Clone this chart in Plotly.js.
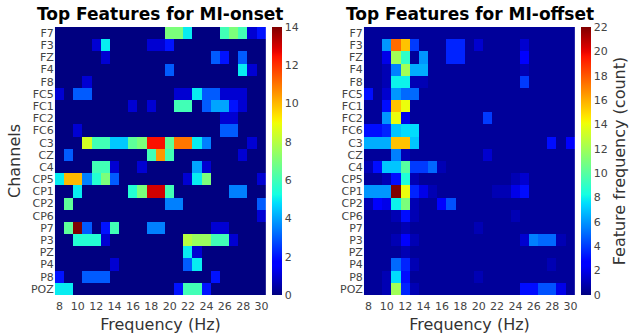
<!DOCTYPE html>
<html>
<head>
<meta charset="utf-8">
<script src="https://cdn.plot.ly/plotly-3.0.1.min.js"></script>
<style>html,body{margin:0;padding:0;background:#fff;}#chart{width:629px;height:335px;}</style>
</head>
<body>
<div id="chart"></div>
<script>
const channels = ['F7','F3','FZ','F4','F8','FC5','FC1','FC2','FC6','C3','CZ','C4','CP5','CP1','CP2','CP6','P7','P3','PZ','P4','P8','POZ'];
const freqs = [8,9,10,11,12,13,14,15,16,17,18,19,20,21,22,23,24,25,26,27,28,29,30];
const freqTicks = [8,10,12,14,16,18,20,22,24,26,28,30];
const onsetTitle = 'Top Features for MI-onset';
const offsetTitle = 'Top Features for MI-offset';
const xLabel = 'Frequency (Hz)';
const yLabel = 'Channels';
const cbLabel = 'Feature frequency (count)';

// MI-onset counts, rows = channels, columns = 8..30 Hz
const onsetCounts = [
  [0,0,0,0,0,0,0,0,0,0,0,0,7,7,5,0,0,0,6,7,6,1,2],      // F7
  [0,0,0,0,1,5,0,0,0,0,1,1,2,0,0,0,0,0,0,0,0,0,0],      // F3
  [0,0,0,0,0,1,0,0,0,0,0,0,0,0,0,0,0,3,2,0,3,0,0],      // FZ
  [0,0,0,0,0,0,0,0,0,0,0,0,3,0,0,0,0,0,0,0,5,1,0],      // F4
  [0,0,0,1,0,0,0,0,0,0,0,0,0,0,0,0,0,0,0,0,0,0,0],      // F8
  [1,0,3,3,0,0,0,0,0,0,0,0,0,1,1,5,3,3,1,1,1,0,0],      // FC5
  [0,0,0,0,0,0,0,0,1,0,1,0,0,6,6,0,3,4,4,2,1,0,0],      // FC1
  [0,0,0,0,0,0,0,0,0,0,0,0,0,0,0,0,0,0,1,1,0,0,0],      // FC2
  [0,0,1,0,0,0,0,0,0,0,0,0,0,0,0,0,0,0,3,3,0,0,0],      // FC6
  [0,0,0,8.5,6,6,4.5,4.5,6.5,7,12.5,12.5,6.5,11,11,5,3.5,0,0,0,0,1,0], // C3
  [0,3,0,0,0,0,0,0,0,0,6,10.5,6,0,0,0,0,0,0,0,1,0,0],   // CZ
  [0,0,0,0,6,6,1,0,0,1,0,0,0,0,0,4,1,0,0,0,0,0,0],      // C4
  [5,10,10,3.5,5.5,7,3,0,0,0,0,0,0,0,1,5,7,0,0,0,0,0,1], // CP5
  [0,0,5,0,0,0,0,0,5.5,7,13,13,6,0,0,0,0,0,0,3.5,3.5,0,0], // CP1
  [0,6.5,0,0,0,0,0,0,0,0,0,0,3.5,3.5,0,0,0,0,0,0,0,0,3], // CP2
  [0,0,0,0,0,0,0,0,0,0,0,0,0,0,0,0,0,0,0,0,0,0,1],      // CP6
  [0,6.5,14,3,0,2,6,0,0,0,3.5,3.5,0,0,0,0,0,1,1,0,0,0,0], // P7
  [0,0,5.5,5.5,5.5,1,0,0,0,0,0,0,0,0,8,7.5,7.5,6,6,1,0,0,0], // P3
  [0,0,0,0,0,0,0,0,0,0,0,0,0,0,5,1,0,0,0,0,0,0,0],      // PZ
  [0,0,0,0,0,0,1,0,0,0,0,0,0,0,3,5,0,0,0,0,0,0,0],      // P4
  [2,0,0,3,3,3,0,0,0,0,0,0,0,0,0,0,0,2,0,0,0,0,0],      // P8
  [5,5,0,0,0,0,0,0,0,0,0,0,0,2,6,6,2,0,0,0,0,0,0]       // POZ
];

// MI-offset counts, rows = channels, columns = 8..30 Hz
const offsetCounts = [
  [0.5,0.5,0.5,0.5,0.5,0.5,0.5,0.5,0.5,0.5,0.5,0.5,0.5,0.5,0.5,0.5,0.5,0.5,0.5,0.5,0.5,0.5,0.5], // F7
  [0.5,0.5,6,17.5,15.5,4,0.5,0.5,0.5,3.5,3.5,0.5,1.5,0.5,0.5,0.5,0.5,1.5,0.5,0.5,0.5,0.5,0.5], // F3
  [0.5,0.5,2,12,9,0.5,6,0.5,0.5,3.5,3.5,0.5,0.5,0.5,0.5,0.5,0.5,2.5,0.5,0.5,0.5,0.5,0.5], // FZ
  [0.5,0.5,1,5.5,12,6.5,6.5,0.5,0.5,0.5,0.5,0.5,0.5,0.5,0.5,0.5,0.5,1,0.5,0.5,0.5,0.5,0.5], // F4
  [0.5,0.5,1,8,8,1,1,0.5,0.5,0.5,0.5,0.5,0.5,0.5,0.5,0.5,0.5,4,0.5,0.5,0.5,0.5,0.5], // F8
  [3,0.5,1.5,6,5,5,0.5,0.5,0.5,0.5,0.5,0.5,0.5,0.5,0.5,0.5,0.5,0.5,0.5,0.5,0.5,0.5,0.5], // FC5
  [0.5,0.5,3,15.5,14,0.5,0.5,0.5,0.5,0.5,0.5,0.5,0.5,0.5,0.5,0.5,0.5,0.5,0.5,0.5,0.5,0.5,0.5], // FC1
  [0.5,0.5,6,14,2,0.5,0.5,0.5,0.5,0.5,0.5,0.5,0.5,4,0.5,0.5,0.5,0.5,0.5,0.5,0.5,0.5,0.5], // FC2
  [3,3,3.5,7,7.5,7.5,0.5,0.5,0.5,0.5,0.5,0.5,0.5,0.5,0.5,0.5,0.5,0.5,0.5,0.5,0.5,0.5,0.5], // FC6
  [6.5,6.5,6.5,15.5,15.5,7,0.5,0.5,0.5,0.5,0.5,0.5,0.5,0.5,0.5,0.5,0.5,0.5,0.5,0.5,3,0.5,2.5], // C3
  [0.5,0.5,0.5,5.5,1,0.5,0.5,0.5,0.5,0.5,0.5,0.5,0.5,1.5,0.5,0.5,0.5,0.5,0.5,0.5,0.5,0.5,0.5], // CZ
  [1,3,7,7,10,4,4,5,1,0.5,0.5,0.5,0.5,0.5,0.5,0.5,0.5,0.5,0.5,0.5,0.5,0.5,0.5], // C4
  [0.5,0.5,1,3,8.5,1,0.5,0.5,0.5,0.5,0.5,0.5,0.5,0.5,0.5,0.5,1,1.5,0.5,0.5,0.5,0.5,0.5], // CP5
  [6,6,6,22,14,3.5,2,1,0.5,0.5,0.5,0.5,0.5,0.5,1,1,2,3,0.5,0.5,0.5,0.5,0.5], // CP1
  [1,2.5,2,8,11,1,0.5,0.5,2.5,4.5,0.5,0.5,0.5,0.5,0.5,0.5,0.5,0.5,0.5,0.5,0.5,0.5,0.5], // CP2
  [0.5,0.5,0.5,1,3,1,0.5,0.5,0.5,0.5,0.5,0.5,0.5,0.5,0.5,0.5,1,0.5,0.5,0.5,0.5,0.5,0.5], // CP6
  [0.5,0.5,0.5,0.5,1,0.5,0.5,0.5,0.5,0.5,0.5,0.5,1,0.5,0.5,0.5,0.5,0.5,0.5,0.5,0.5,0.5,0.5], // P7
  [0.5,0.5,0.5,1,2.5,1,0.5,0.5,0.5,0.5,0.5,0.5,0.5,0.5,0.5,0.5,0.5,1.5,5.5,5,5,1,0.5], // P3
  [0.5,0.5,0.5,0.5,1,0.5,0.5,0.5,0.5,0.5,0.5,0.5,0.5,0.5,0.5,0.5,0.5,0.5,0.5,0.5,0.5,0.5,0.5], // PZ
  [0.5,0.5,0.5,5,3.5,1,0.5,0.5,0.5,0.5,0.5,0.5,0.5,0.5,0.5,0.5,0.5,0.5,0.5,0.5,1,0.5,0.5], // P4
  [0.5,0.5,1,7.5,3,0.5,0.5,0.5,0.5,0.5,0.5,0.5,1,0.5,0.5,0.5,0.5,0.5,0.5,0.5,0.5,0.5,0.5], // P8
  [0.5,0.5,1,12,3.5,1,0.5,0.5,0.5,0.5,0.5,0.5,0.5,0.5,0.5,0.5,0.5,3,3,4.5,4.5,2,0.5] // POZ
];

const onsetMax = 14;
const offsetMax = 22;

// matplotlib "jet" colour map
function interp(pts, t) {
  for (let i = 0; i < pts.length - 1; i++) {
    const a = pts[i], b = pts[i + 1];
    if (t >= a[0] && t <= b[0]) return a[1] + (b[1] - a[1]) * (t - a[0]) / (b[0] - a[0]);
  }
  return pts[pts.length - 1][1];
}
const R = [[0,0],[0.35,0],[0.66,1],[0.89,1],[1,0.5]];
const G = [[0,0],[0.125,0],[0.375,1],[0.64,1],[0.91,0],[1,0]];
const B = [[0,0.5],[0.11,1],[0.34,1],[0.65,0],[1,0]];
const jet = [];
for (let i = 0; i <= 64; i++) {
  const t = i / 64;
  jet.push([t, 'rgb(' + Math.round(255 * interp(R, t)) + ',' + Math.round(255 * interp(G, t)) + ',' + Math.round(255 * interp(B, t)) + ')']);
}

const W = 629, H = 335;
const yBot = (H - 295) / H, yTop = (H - 27) / H;
const tickFont = {family: 'DejaVu Sans', size: 11, color: '#444'};

const traces = [
  {
    type: 'heatmap', x: freqs, y: channels, z: onsetCounts,
    zmin: 0, zmax: onsetMax, colorscale: jet, xaxis: 'x', yaxis: 'y',
    colorbar: {x: 273 / W, xanchor: 'left', xpad: 0, ypad: 0, thickness: 10,
      len: yTop - yBot, lenmode: 'fraction', y: yBot, yanchor: 'bottom',
      outlinewidth: 0, tickmode: 'linear', tick0: 0, dtick: 2, ticks: '',
      tickfont: tickFont}
  },
  {
    type: 'heatmap', x: freqs, y: channels, z: offsetCounts,
    zmin: 0, zmax: offsetMax, colorscale: jet, xaxis: 'x2', yaxis: 'y2',
    colorbar: {x: 583 / W, xanchor: 'left', xpad: 0, ypad: 0, thickness: 10,
      len: yTop - yBot, lenmode: 'fraction', y: yBot, yanchor: 'bottom',
      outlinewidth: 0, tickmode: 'linear', tick0: 0, dtick: 2, ticks: '',
      tickfont: tickFont,
      title: {text: cbLabel, side: 'right', font: {family: 'DejaVu Sans', size: 16, color: '#333'}}}
  }
];

const xCommon = {
  tickmode: 'array', tickvals: freqTicks, ticktext: freqTicks.map(String),
  range: [7.5, 30.5], ticks: '', showgrid: false, zeroline: false, ticklabelstandoff: 3,
  tickfont: tickFont, title: {text: xLabel, font: {family: 'DejaVu Sans', size: 16, color: '#333'}, standoff: 6}
};
const yCommon = {
  autorange: 'reversed', ticks: '', showgrid: false, zeroline: false,
  tickfont: tickFont, tickmode: 'array', tickvals: channels, ticktext: channels
};

const layout = {
  width: W, height: H,
  margin: {l: 0, r: 0, t: 0, b: 0},
  paper_bgcolor: '#fff', plot_bgcolor: '#fff',
  showlegend: false,
  xaxis: Object.assign({}, xCommon, {domain: [55 / W, 267 / W], anchor: 'y'}),
  yaxis: Object.assign({}, yCommon, {domain: [yBot, yTop], anchor: 'x',
    title: {text: yLabel, font: {family: 'DejaVu Sans', size: 16, color: '#333'}, standoff: 6}}),
  xaxis2: Object.assign({}, xCommon, {domain: [365 / W, 577 / W], anchor: 'y2'}),
  yaxis2: Object.assign({}, yCommon, {domain: [yBot, yTop], anchor: 'x2'}),
  annotations: [
    {text: '<b>' + onsetTitle + '</b>', x: 161 / W, y: 1 - 14 / H, xref: 'paper', yref: 'paper',
      xanchor: 'center', yanchor: 'middle', showarrow: false,
      font: {family: 'DejaVu Sans', size: 17, color: '#000'}},
    {text: '<b>' + offsetTitle + '</b>', x: 471 / W, y: 1 - 14 / H, xref: 'paper', yref: 'paper',
      xanchor: 'center', yanchor: 'middle', showarrow: false,
      font: {family: 'DejaVu Sans', size: 17, color: '#000'}}
  ]
};

Plotly.newPlot('chart', traces, layout, {displayModeBar: false, staticPlot: true});
</script>
</body>
</html>
